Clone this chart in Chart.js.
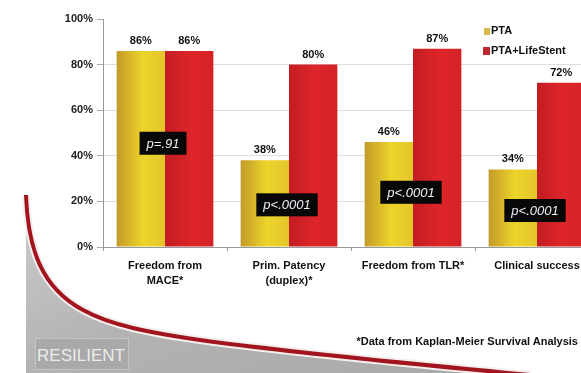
<!DOCTYPE html>
<html>
<head>
<meta charset="utf-8">
<script src="https://cdn.jsdelivr.net/npm/chart.js@4.4.1/dist/chart.umd.min.js"></script>
<style>
  html, body { margin: 0; padding: 0; background: #fff; overflow: hidden; }
  #wrap { position: relative; width: 600px; height: 373px; }
  #deco, #chart { position: absolute; left: 0; top: 0; }
  .txt { position: absolute; font: bold 11px "Liberation Sans", Arial, sans-serif; color: #111; white-space: nowrap; line-height: 13px; }
  .key { position: absolute; }
</style>
</head>
<body>
<div id="wrap">
  <svg id="deco" width="600" height="373">
    <defs>
      <linearGradient id="grey" x1="0" y1="0" x2="1" y2="1">
        <stop offset="0" stop-color="#cdcdcd"/>
        <stop offset="0.5" stop-color="#b2b2b2"/>
        <stop offset="1" stop-color="#a8a8a8"/>
      </linearGradient>
    </defs>
    <path d="M26,195 C28,250 42,288 83,310 C110,325 150,333 200,340 S390,362 530,375 L26,375 Z" fill="url(#grey)"/>
    <path d="M26,195 C28,250 42,288 83,310 C110,325 150,333 200,340 S390,362 530,375" fill="none" stroke="#f4eeee" stroke-width="8"/>
    <path d="M26,195 C28,250 42,288 83,310 C110,325 150,333 200,340 S390,362 530,375" fill="none" stroke="#a3151d" stroke-width="4"/>
    <rect x="35.5" y="338.5" width="93" height="31" fill="#a9a9a9" stroke="#cfcfcf" stroke-dasharray="2 1"/>
    <text x="81" y="361" text-anchor="middle" font-family="Liberation Sans, Arial, sans-serif" font-size="17" fill="#ececec">RESILIENT</text>
  </svg>
  <canvas id="chart" width="600" height="373"></canvas>
  <div class="key" style="left:484px;top:28px;width:6px;height:7px;background:#d9b94a"></div>
  <div class="txt" style="left:491px;top:24px">PTA</div>
  <div class="key" style="left:483px;top:47px;width:7px;height:8px;background:#c0262c"></div>
  <div class="txt" style="left:491px;top:44px">PTA+LifeStent</div>
  <div class="txt" style="right:22px;top:335px">*Data from Kaplan-Meier Survival Analysis</div>
</div>
<script>
const categories = [['Freedom from', 'MACE*'], ['Prim. Patency', '(duplex)*'], 'Freedom from TLR*', 'Clinical success'];
const ptaValues = [86, 38, 46, 34];
const lifeStentValues = [86, 80, 87, 72];
const pValues = ['p=.91', 'p<.0001', 'p<.0001', 'p<.0001'];
const pLabelLevel = [45.5, 18.5, 24, 16];

const font = '"Liberation Sans", Arial, sans-serif';
const catPct = 0.78;

// horizontal shading across each bar
function barFill(stops, side) {
  return (c) => {
    const x = c.chart.scales.x;
    if (!x || !x.width || c.dataIndex === undefined) return stops[1];
    const mid = x.getPixelForValue(c.dataIndex);
    const w = x.width / categories.length * catPct / 2;
    const x0 = side < 0 ? mid - w : mid;
    const g = c.chart.ctx.createLinearGradient(x0, 0, x0 + w, 0);
    g.addColorStop(0, stops[0]);
    g.addColorStop(0.55, stops[1]);
    g.addColorStop(1, stops[2]);
    return g;
  };
}

const barLabels = {
  id: 'barLabels',
  afterDatasetsDraw(chart) {
    const ctx = chart.ctx;
    ctx.save();
    ctx.font = 'bold 11px ' + font;
    ctx.fillStyle = '#111';
    ctx.textAlign = 'center';
    ctx.textBaseline = 'alphabetic';
    chart.data.datasets.forEach((ds, di) => {
      chart.getDatasetMeta(di).data.forEach((bar, i) => {
        ctx.fillText(ds.data[i] + '%', bar.x, bar.y - 7);
      });
    });

    const xs = chart.scales.x, ys = chart.scales.y;
    ctx.font = 'italic 13px ' + font;
    ctx.textBaseline = 'middle';
    pValues.forEach((txt, i) => {
      const cx = xs.getPixelForValue(i) - 2;
      const cy = ys.getPixelForValue(pLabelLevel[i]);
      const w = ctx.measureText(txt).width + 14, h = 23;
      ctx.fillStyle = '#080808';
      ctx.fillRect(cx - w / 2, cy - h / 2, w, h);
      ctx.fillStyle = '#eeeef6';
      ctx.fillText(txt, cx, cy + 1);
    });
    ctx.restore();
  }
};

new Chart(document.getElementById('chart'), {
  type: 'bar',
  data: {
    labels: categories,
    datasets: [
      {
        label: 'PTA',
        data: ptaValues,
        backgroundColor: barFill(['#c49a2a', '#ecd52a', '#e4c52c'], -1),
        categoryPercentage: catPct,
        barPercentage: 1
      },
      {
        label: 'PTA+LifeStent',
        data: lifeStentValues,
        backgroundColor: barFill(['#c21d22', '#de2529', '#d32226'], 1),
        categoryPercentage: catPct,
        barPercentage: 1
      }
    ]
  },
  options: {
    responsive: false,
    devicePixelRatio: 1,
    animation: false,
    layout: { padding: { top: 19, right: 1, bottom: 0, left: 0 } },
    plugins: {
      legend: { display: false },
      tooltip: { enabled: false }
    },
    scales: {
      x: {
        ticks: {
          font: { family: font, size: 11, weight: 'bold', lineHeight: 1.35 },
          color: '#111',
          padding: 8,
          maxRotation: 0,
          autoSkip: false
        },
        grid: { drawOnChartArea: false, tickLength: 4, color: '#999' },
        border: { color: '#999' },
        afterFit: (s) => { s.height = 126; }
      },
      y: {
        min: 0,
        max: 100,
        ticks: {
          stepSize: 20,
          callback: (v) => v + '%',
          font: { family: font, size: 11, weight: 'bold' },
          color: '#222',
          padding: 4
        },
        grid: {
          color: (c) => (c.tick && c.tick.value === 100 ? 'rgba(0,0,0,0)' : '#dedede'),
          tickColor: '#aaa',
          tickLength: 6
        },
        border: { color: '#999' },
        afterFit: (s) => { s.width = 103; }
      }
    }
  },
  plugins: [barLabels]
});
</script>
</body>
</html>
